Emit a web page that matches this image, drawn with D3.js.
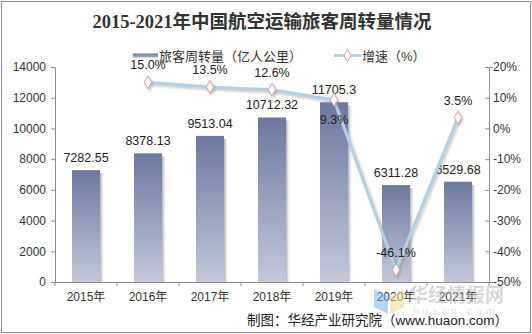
<!DOCTYPE html>
<html>
<head>
<meta charset="utf-8">
<script src="https://cdn.jsdelivr.net/npm/d3@7/dist/d3.min.js"></script>
<style>
  html, body { margin: 0; padding: 0; background: #fff; }
  svg { display: block; }
</style>
</head>
<body>
<div id="chart"></div>
<script>
// Passenger turnover of China's civil aviation, 2015-2021
const years = ["2015年", "2016年", "2017年", "2018年", "2019年", "2020年", "2021年"];
const turnover = [7282.55, 8378.13, 9513.04, 10712.32, 11705.3, 6311.28, 6529.68];
const growth = [null, 15.0, 13.5, 12.6, 9.3, -46.1, 3.5];
const growthLabelPos = [null, "above", "above", "above", "below", "above", "above"];
const leftTicks = [0, 2000, 4000, 6000, 8000, 10000, 12000, 14000];
const rightTicks = [20, 10, 0, -10, -20, -30, -40, -50];

const W = 532, H = 334;
const plot = { left: 55, right: 489, top: 67, bottom: 282 };

const svg = d3.select("#chart").append("svg").attr("width", W).attr("height", H);
const defs = svg.append("defs");

const barGrad = defs.append("linearGradient").attr("id", "barGrad")
  .attr("x1", 0).attr("y1", 0).attr("x2", 0).attr("y2", 1);
barGrad.append("stop").attr("offset", "0%").attr("stop-color", "#6c789e");
barGrad.append("stop").attr("offset", "100%").attr("stop-color", "#c3c8da");

const shadowGrad = defs.append("linearGradient").attr("id", "shadowGrad")
  .attr("x1", 0).attr("y1", 0).attr("x2", 1).attr("y2", 0);
shadowGrad.append("stop").attr("offset", "0%").attr("stop-color", "#9a9a9a").attr("stop-opacity", 0.8);
shadowGrad.append("stop").attr("offset", "100%").attr("stop-color", "#ffffff").attr("stop-opacity", 0);

const legendGrad = defs.append("linearGradient").attr("id", "legendGrad")
  .attr("x1", 0).attr("y1", 0).attr("x2", 0).attr("y2", 1);
legendGrad.append("stop").attr("offset", "0%").attr("stop-color", "#6c789e");
legendGrad.append("stop").attr("offset", "100%").attr("stop-color", "#a9b0c8");

const lineShadow = defs.append("filter").attr("id", "lineShadow")
  .attr("x", "-20%").attr("y", "-20%").attr("width", "140%").attr("height", "140%");
lineShadow.append("feDropShadow").attr("dx", 1.5).attr("dy", 2).attr("stdDeviation", 1.2)
  .attr("flood-color", "#888").attr("flood-opacity", 0.45);

// outer frame
svg.append("rect").attr("x", 1.5).attr("y", 1.5).attr("width", W - 3).attr("height", H - 3)
  .attr("fill", "#fff").attr("stroke", "#8c8c8c").attr("stroke-width", 1);

const x = d3.scaleBand().domain(years).range([plot.left, plot.right]).paddingInner(0).paddingOuter(0);
const yL = d3.scaleLinear().domain([0, 14000]).range([plot.bottom, plot.top]);
const yR = d3.scaleLinear().domain([-50, 20]).range([plot.bottom, plot.top]);

const sans = "'Liberation Sans', Arial, 'Noto Sans CJK SC', sans-serif";

// title
svg.append("text").attr("x", 262).attr("y", 28).attr("text-anchor", "middle")
  .attr("font-family", "'Liberation Serif', 'Times New Roman', 'Noto Sans CJK SC', serif")
  .attr("font-weight", "bold").attr("font-size", 18.5).attr("fill", "#333")
  .text("2015-2021年中国航空运输旅客周转量情况");

// legend
const lg = svg.append("g").attr("font-family", sans).attr("font-size", 13).attr("fill", "#333");
lg.append("rect").attr("x", 133).attr("y", 53.5).attr("width", 25).attr("height", 4).attr("fill", "url(#legendGrad)");
lg.append("text").attr("x", 159).attr("y", 60.5).attr("fill", "#333").text("旅客周转量（亿人公里）");
lg.append("line").attr("x1", 334).attr("x2", 361).attr("y1", 55.5).attr("y2", 55.5)
  .attr("stroke", "#b0d2e4").attr("stroke-width", 3);
lg.append("path").attr("d", d3.symbol(d3.symbolDiamond, 42)())
  .attr("transform", "translate(347.5,55.5)").attr("fill", "#fff").attr("stroke", "#e0a0a0").attr("stroke-width", 1);
lg.append("text").attr("x", 362).attr("y", 60.5).attr("fill", "#333").text("增速（%）");

// axes
const axisColor = "#8c8c8c";
const leftAxis = svg.append("g").attr("transform", `translate(${plot.left},0)`)
  .call(d3.axisLeft(yL).tickValues(leftTicks).tickSize(4).tickPadding(5).tickFormat(d3.format("d")));
const rightAxis = svg.append("g").attr("transform", `translate(${plot.right},0)`)
  .call(d3.axisRight(yR).tickValues(rightTicks).tickSize(4).tickPadding(4).tickFormat(d => d + "%"));
const bottomAxis = svg.append("g").attr("transform", `translate(0,${plot.bottom})`)
  .call(d3.axisBottom(x).tickSize(0).tickPadding(10));
// category boundary ticks on the x axis
svg.append("g").selectAll("line").data(d3.range(years.length + 1)).join("line")
  .attr("x1", i => plot.left + i * x.bandwidth()).attr("x2", i => plot.left + i * x.bandwidth())
  .attr("y1", plot.bottom).attr("y2", plot.bottom + 4)
  .attr("stroke", axisColor);
// right axis ticks sit on the inner side of the axis line
rightAxis.selectAll(".tick line").attr("x2", -4);

[leftAxis, rightAxis, bottomAxis].forEach(g => {
  g.selectAll("path.domain").attr("stroke", axisColor);
  g.selectAll(".tick line").attr("stroke", axisColor);
  g.selectAll("text").attr("font-family", sans).attr("font-size", 12).attr("fill", "#333");
});
rightAxis.selectAll(".tick text").attr("x", 4);
bottomAxis.selectAll(".tick text").attr("dy", "0.71em");

// bars
const barW = 28;
const bars = svg.append("g");
years.forEach((yr, i) => {
  const cx = x(yr) + x.bandwidth() / 2;
  const top = yL(turnover[i]);
  bars.append("rect").attr("x", cx + barW / 2).attr("y", top + 3)
    .attr("width", 5).attr("height", plot.bottom - top - 3).attr("fill", "url(#shadowGrad)");
  bars.append("rect").attr("x", cx - barW / 2).attr("y", top)
    .attr("width", barW).attr("height", plot.bottom - top).attr("fill", "url(#barGrad)");
  bars.append("text").attr("x", cx).attr("y", top - 8).attr("text-anchor", "middle")
    .attr("font-family", sans).attr("font-size", 12.5).attr("fill", "#222")
    .text(turnover[i]);
});

// growth line
const pts = years.map((yr, i) => ({ yr, v: growth[i], pos: growthLabelPos[i] })).filter(d => d.v !== null);
const line = d3.line().x(d => x(d.yr) + x.bandwidth() / 2).y(d => yR(d.v));
svg.append("path").datum(pts).attr("d", line).attr("fill", "none")
  .attr("stroke", "#b0d2e4").attr("stroke-width", 3).attr("filter", "url(#lineShadow)");
svg.append("g").selectAll("path").data(pts).join("path")
  .attr("d", d3.symbol(d3.symbolDiamond, 48)())
  .attr("transform", d => `translate(${x(d.yr) + x.bandwidth() / 2},${yR(d.v)})`)
  .attr("fill", "#fff").attr("stroke", "#e09a9a").attr("stroke-width", 1)
  .attr("filter", "url(#lineShadow)");
svg.append("g").selectAll("text").data(pts).join("text")
  .attr("x", d => x(d.yr) + x.bandwidth() / 2)
  .attr("y", d => d.pos === "below" ? yR(d.v) + 24 : yR(d.v) - 13)
  .attr("text-anchor", "middle").attr("font-family", sans).attr("font-size", 12.5).attr("fill", "#222")
  .text(d => d.v.toFixed(1) + "%");

// watermark
const wm = svg.append("g").attr("opacity", 0.55);
wm.append("path").attr("d", "M374,289 L388,296 L388,314 L374,307 Z").attr("fill", "#7fb2e6");
wm.append("path").attr("d", "M390,296 L404,289 L404,307 L390,314 Z").attr("fill", "#f2dc8a");
wm.append("text").attr("x", 409).attr("y", 302).attr("font-family", "'Noto Sans CJK SC', sans-serif")
  .attr("font-weight", "bold").attr("font-size", 19).attr("fill", "#b8b8b8").text("华经情报网");
wm.append("text").attr("x", 413).attr("y", 315).attr("font-family", sans)
  .attr("font-size", 10).attr("letter-spacing", 4).attr("fill", "#c8c8c8").text("huaon.com");

// source note
svg.append("text").attr("x", 508).attr("y", 325).attr("text-anchor", "end")
  .attr("font-family", sans).attr("font-size", 13.5).attr("fill", "#222")
  .text("制图：华经产业研究院（www.huaon.com）");
</script>
</body>
</html>
